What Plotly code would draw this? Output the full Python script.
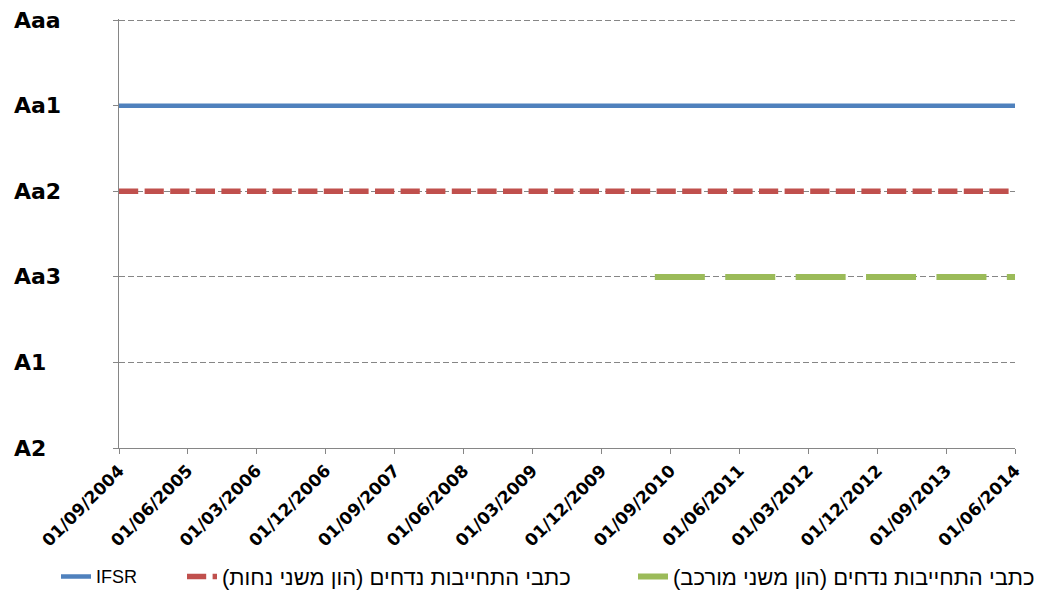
import plotly.graph_objects as go

# Rating scale (bottom to top)
ratings = ["A2", "A1", "Aa3", "Aa2", "Aa1", "Aaa"]

# Series
ifsr_dates = ["2004-09-01", "2014-06-01"]
ifsr_vals = ["Aa1", "Aa1"]

nahut_dates = ["2004-09-01", "2014-06-01"]
nahut_vals = ["Aa2", "Aa2"]

murkav_dates = ["2010-07-01", "2014-06-01"]
murkav_vals = ["Aa3", "Aa3"]

names = [
    "IFSR",
    "כתבי התחייבות נדחים (הון משני נחות)",
    "כתבי התחייבות נדחים (הון משני מורכב)",
]

tick_dates = ["2004-09-01", "2005-06-01", "2006-03-01", "2006-12-01", "2007-09-01",
              "2008-06-01", "2009-03-01", "2009-12-01", "2010-09-01", "2011-06-01",
              "2012-03-01", "2012-12-01", "2013-09-01", "2014-06-01"]
tick_text = ["01/09/2004", "01/06/2005", "01/03/2006", "01/12/2006", "01/09/2007",
             "01/06/2008", "01/03/2009", "01/12/2009", "01/09/2010", "01/06/2011",
             "01/03/2012", "01/12/2012", "01/09/2013", "01/06/2014"]


def rtl(s):
    # render as a right-to-left run (parentheses mirrored properly)
    return "\u200f" + s + "\u200f"


fig = go.Figure()
fig.add_trace(go.Scatter(x=ifsr_dates, y=ifsr_vals, mode="lines", name=names[0],
                         line=dict(color="#4F81BD", width=4.5), legend="legend"))
fig.add_trace(go.Scatter(x=nahut_dates, y=nahut_vals, mode="lines",
                         name=rtl(names[1]),
                         line=dict(color="#C0504D", width=5.5, dash="19.2px,6.4px"),
                         legend="legend2"))
fig.add_trace(go.Scatter(x=murkav_dates, y=murkav_vals, mode="lines",
                         name=rtl(names[2]),
                         line=dict(color="#9BBB59", width=6, dash="50px,20.4px"),
                         legend="legend3"))

grid_col = "#868686"
fig.update_xaxes(
    type="date", range=["2004-09-01", "2014-06-01"],
    tickvals=tick_dates, ticktext=tick_text, tickangle=-45,
    tickfont=dict(family="DejaVu Sans", size=17, color="#000000", weight="bold"),
    showgrid=False, showline=True, linecolor=grid_col, linewidth=1,
    ticks="outside", ticklen=5, tickcolor=grid_col, tickwidth=1,
    zeroline=False, automargin=False,
)
fig.update_yaxes(
    type="category", categoryorder="array", categoryarray=ratings,
    range=[0, 5.015], showticklabels=False,
    showgrid=True, gridcolor=grid_col, gridwidth=1.2, griddash="6px,3px",
    showline=True, linecolor=grid_col, linewidth=1,
    ticks="outside", ticklen=5, tickcolor=grid_col, tickwidth=1,
    zeroline=False, automargin=False,
)

for r in ratings:
    fig.add_annotation(x=-0.119, xref="paper", y=r, yref="y", text="<b>%s</b>" % r,
                       showarrow=False, xanchor="left", yanchor="middle",
                       font=dict(family="DejaVu Sans", size=22, color="#000000"))

leg_font = dict(family="Liberation Sans", size=22, color="#000000")
common = dict(orientation="h", y=-0.30, yanchor="middle", xanchor="left",
              bgcolor="rgba(0,0,0,0)", itemwidth=30)
fig.update_layout(
    width=1055, height=592,
    margin=dict(l=119, r=40, t=19, b=144, autoexpand=False),
    paper_bgcolor="white", plot_bgcolor="white",
    showlegend=True,
    legend=dict(x=(56 - 119) / 896, font=dict(family="Liberation Sans", size=18, color="#000000"), **common),
    legend2=dict(x=(182 - 119) / 896, font=leg_font, **common),
    legend3=dict(x=(633 - 119) / 896, font=leg_font, **common),
    font=dict(family="DejaVu Sans"),
)

fig.write_html("out.html")
